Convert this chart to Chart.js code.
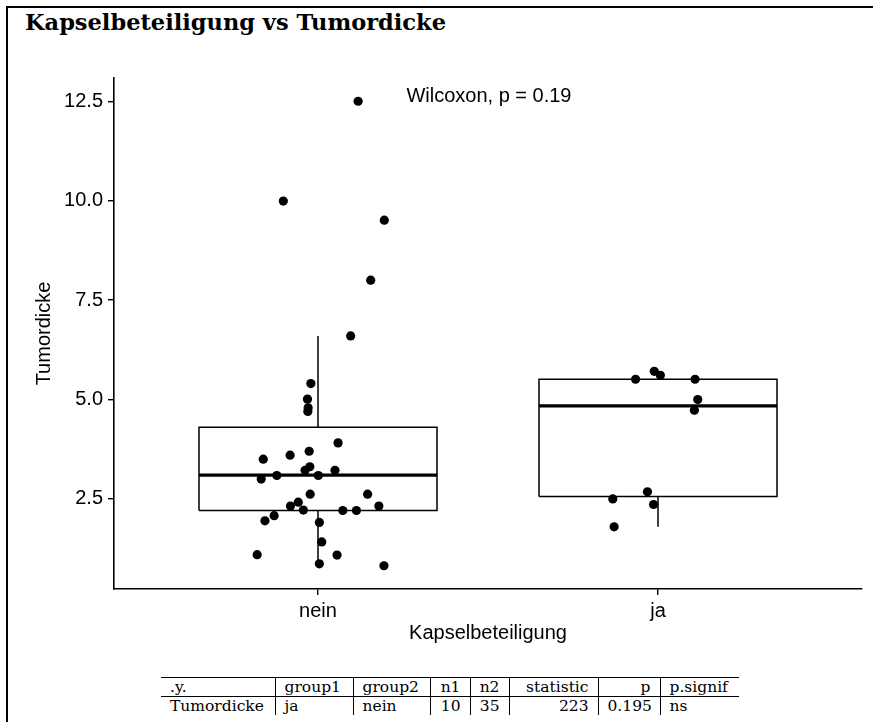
<!DOCTYPE html>
<html>
<head>
<meta charset="utf-8">
<script src="https://cdn.jsdelivr.net/npm/chart.js@4.4.1/dist/chart.umd.min.js"></script>
<style>
  html, body { margin: 0; padding: 0; background: #fff; }
  #page { position: relative; width: 873px; height: 722px; overflow: hidden; background: #fff; }
  #frame { position: absolute; left: 6px; top: 6px; right: -10px; bottom: -10px;
           border-top: 2px solid #000; border-left: 2px solid #000; }
  #title { position: absolute; left: 25px; top: 11px; font-family: "DejaVu Serif", serif;
           font-weight: bold; font-size: 22.5px; line-height: 22.5px; white-space: nowrap; color: #000; }
  #chart { position: absolute; left: 0; top: 0; }
  #stats { position: absolute; left: 161px; top: 677px; border-collapse: collapse; table-layout: fixed;
           font-family: "DejaVu Serif", serif; font-size: 15.5px; color: #000; }
  #stats td { height: 18px; line-height: 18px; padding: 0 9px; border-left: 1px solid #000;
              white-space: nowrap; overflow: hidden; }
  #stats td.first { border-left: none; }
  #stats tr.head td { border-top: 1px solid #000; border-bottom: 1px solid #000; }
  #stats td.num { text-align: right; }
</style>
</head>
<body>
<div id="page">
  <div id="frame"></div>
  <div id="title">Kapselbeteiligung vs Tumordicke</div>
  <canvas id="chart" width="873" height="660"></canvas>
  <table id="stats"></table>
</div>
<script>
// Groups on the x axis
const categories = ['nein', 'ja'];

// Tumordicke per patient, with the horizontal jitter of each dot (in category units)
const neinValues = [12.50, 9.99, 9.51, 8.00, 6.60, 5.40, 5.01, 4.79, 4.70, 3.91, 3.50, 3.60, 3.70,
                    3.31, 3.22, 3.22, 3.00, 3.09, 3.09, 2.62, 2.62, 2.42, 2.32, 2.22, 2.21, 2.21,
                    2.32, 2.08, 1.95, 1.91, 1.42, 1.10, 1.09, 0.87, 0.82];
const neinJitter = [0.118, -0.102, 0.195, 0.155, 0.096, -0.021, -0.031, -0.029, -0.030, 0.059, -0.161,
                    -0.082, -0.026, -0.024, -0.038, 0.050, -0.167, -0.121, 0.001, -0.023, 0.146, -0.058,
                    -0.081, -0.043, 0.073, 0.113, 0.179, -0.129, -0.156, 0.004, 0.011, -0.179, 0.056,
                    0.004, 0.194];
const jaValues = [5.51, 5.71, 5.61, 5.51, 5.00, 4.73, 2.68, 2.50, 2.36, 1.80];
const jaJitter = [-0.066, -0.011, 0.007, 0.109, 0.117, 0.107, -0.031, -0.133, -0.013, -0.129];

// Box plot statistics per group (same order as categories)
const whiskerLow  = [0.87, 1.80];
const quartile1   = [2.21, 2.56];
const medians     = [3.10, 4.84];
const quartile3   = [4.30, 5.51];
const whiskerHigh = [6.60, 5.71];

// Axis ticks
const yTicks = [2.5, 5.0, 7.5, 10.0, 12.5];

// Test result
const testName = 'Wilcoxon';
const testP = 0.19;
const testLabelAt = [1.26, 12.63];

// Summary table
const statsHeader = ['.y.', 'group1', 'group2', 'n1', 'n2', 'statistic', 'p', 'p.signif'];
const statsRow    = ['Tumordicke', 'ja', 'nein', '10', '35', '223', '0.195', 'ns'];
const statsNumeric = [false, false, false, true, true, true, true, false];
const statsColWidths = [114, 78, 77, 40, 39, 89, 62, 79];

// ---- summary table ----
(function buildTable() {
  const table = document.getElementById('stats');
  const cg = document.createElement('colgroup');
  let total = 0;
  statsColWidths.forEach(w => { const c = document.createElement('col'); c.style.width = w + 'px'; cg.appendChild(c); total += w; });
  table.appendChild(cg);
  table.style.width = total + 'px';
  const body = document.createElement('tbody');
  [statsHeader, statsRow].forEach((row, r) => {
    const tr = document.createElement('tr');
    if (r === 0) tr.className = 'head';
    row.forEach((txt, i) => {
      const td = document.createElement('td');
      td.textContent = txt;
      const cls = [];
      if (statsNumeric[i]) cls.push('num');
      if (i === 0) cls.push('first');
      td.className = cls.join(' ');
      tr.appendChild(td);
    });
    body.appendChild(tr);
  });
  table.appendChild(body);
})();

// ---- chart ----
const sansFont = '"Liberation Sans", Arial, Helvetica, sans-serif';
Chart.defaults.font.family = sansFont;
Chart.defaults.color = '#000';

const BOX_HALF = 0.35;
const lineStyle = { showLine: true, pointRadius: 0, borderColor: '#000', backgroundColor: '#000', fill: false, order: 1 };

const pointData = [];
neinValues.forEach((v, i) => pointData.push({ x: 1 + neinJitter[i], y: v }));
jaValues.forEach((v, i) => pointData.push({ x: 2 + jaJitter[i], y: v }));

const datasets = [{
  label: 'Tumordicke',
  data: pointData,
  pointRadius: 4.6,
  pointBackgroundColor: '#000',
  pointBorderWidth: 0,
  showLine: false,
  order: 0
}];

categories.forEach((cat, i) => {
  const c = i + 1, l = c - BOX_HALF, r = c + BOX_HALF;
  datasets.push(Object.assign({}, lineStyle, {
    label: cat + ' box', borderWidth: 1.5,
    data: [{x: l, y: quartile1[i]}, {x: r, y: quartile1[i]}, {x: r, y: quartile3[i]}, {x: l, y: quartile3[i]}, {x: l, y: quartile1[i]}]
  }));
  datasets.push(Object.assign({}, lineStyle, {
    label: cat + ' median', borderWidth: 3.4,
    data: [{x: l, y: medians[i]}, {x: r, y: medians[i]}]
  }));
  datasets.push(Object.assign({}, lineStyle, {
    label: cat + ' upper whisker', borderWidth: 1.5,
    data: [{x: c, y: quartile3[i]}, {x: c, y: whiskerHigh[i]}]
  }));
  datasets.push(Object.assign({}, lineStyle, {
    label: cat + ' lower whisker', borderWidth: 1.5,
    data: [{x: c, y: quartile1[i]}, {x: c, y: whiskerLow[i]}]
  }));
});

const testLabel = {
  id: 'testLabel',
  afterDatasetsDraw(chart) {
    const { ctx, scales: { x, y } } = chart;
    ctx.save();
    ctx.font = '20px ' + sansFont;
    ctx.fillStyle = '#000';
    ctx.textAlign = 'left';
    ctx.textBaseline = 'middle';
    ctx.fillText(testName + ', p = ' + testP, x.getPixelForValue(testLabelAt[0]), y.getPixelForValue(testLabelAt[1]));
    ctx.restore();
  }
};

new Chart(document.getElementById('chart'), {
  type: 'scatter',
  data: { datasets },
  options: {
    responsive: false,
    animation: false,
    devicePixelRatio: 1,
    layout: { padding: { top: 78, right: 11, bottom: 0, left: 0 } },
    plugins: { legend: { display: false }, tooltip: { enabled: false } },
    scales: {
      x: {
        type: 'linear', min: 0.4, max: 2.6,
        afterBuildTicks: axis => { axis.ticks = categories.map((_, i) => ({ value: i + 1 })); },
        afterFit: scale => { scale.height = 71; },
        ticks: { callback: (v, idx) => categories[idx], font: { size: 20 }, color: '#000', padding: 4, maxRotation: 0 },
        grid: { display: true, drawOnChartArea: false, drawTicks: true, tickLength: 6, color: '#000', lineWidth: 1.4 },
        border: { display: true, color: '#000', width: 1.6 },
        title: { display: true, text: 'Kapselbeteiligung', font: { size: 20 }, color: '#000', padding: { top: 0, bottom: 15 } }
      },
      y: {
        type: 'linear', min: 0.236, max: 13.084,
        afterBuildTicks: axis => { axis.ticks = yTicks.map(v => ({ value: v })); },
        afterFit: scale => { scale.width = 114; },
        ticks: { callback: v => Number(v).toFixed(1), font: { size: 20 }, color: '#000', padding: 5 },
        grid: { display: true, drawOnChartArea: false, drawTicks: true, tickLength: 6, color: '#000', lineWidth: 1.4 },
        border: { display: true, color: '#000', width: 1.6 },
        title: { display: true, text: 'Tumordicke', font: { size: 20 }, color: '#000', padding: { top: 32, bottom: 0 } }
      }
    }
  },
  plugins: [testLabel]
});
</script>
</body>
</html>
